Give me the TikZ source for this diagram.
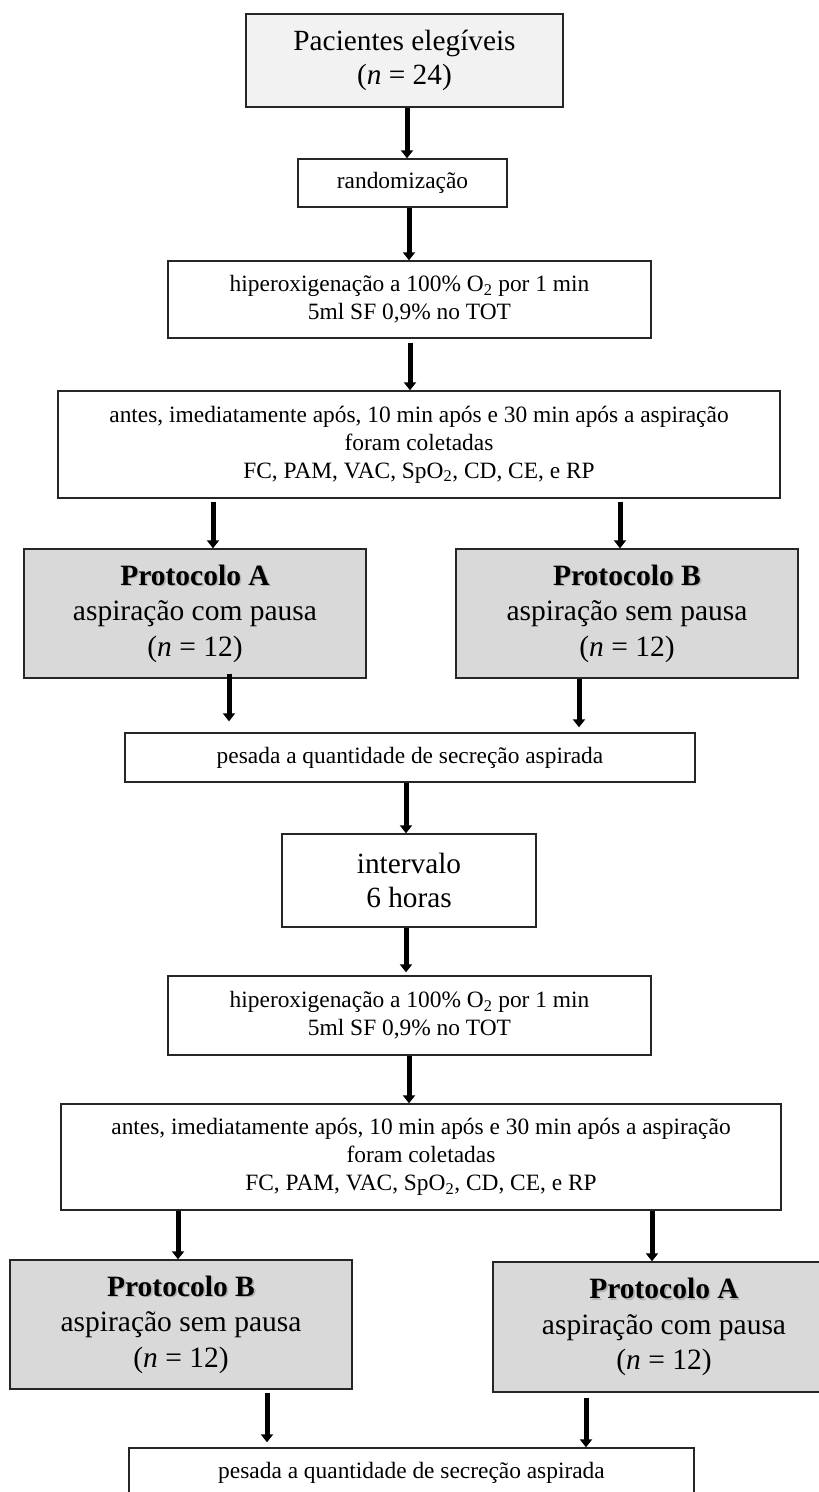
\documentclass[tikz,border=0pt]{standalone}
\usepackage{fontspec}
\setmainfont{Liberation Serif}
\usetikzlibrary{arrows.meta}
\definecolor{lightfill}{HTML}{F2F2F2}
\definecolor{protofill}{HTML}{D9D9D9}
\definecolor{edgecol}{HTML}{262626}
\newcommand\shtitle[1]{\makebox[0pt][l]{\hspace{1.6pt}\raisebox{-1.6pt}{\textcolor{black!30}{\bfseries #1}}}{\bfseries #1}}
\begin{document}
\begin{tikzpicture}[x=1pt,y=-1pt,
  box/.style={draw=edgecol, line width=1.4pt, rectangle, inner sep=0pt, align=center,
              font=\fontsize{23.4}{28}\selectfont},
  bigbox/.style={box, font=\fontsize{29.3}{34.5}\selectfont},
  protobox/.style={box, fill=protofill, minimum width=342pt, minimum height=129pt,
              font=\fontsize{29.5}{35.5}\selectfont},
  arr/.style={line width=5pt, -{Triangle[width=12pt,length=8pt]}}]
\useasboundingbox (0,0) rectangle (819,1492);
\fill[white] (0,0) rectangle (819,1492);

% nodes
\node[bigbox, fill=lightfill, minimum width=317pt, minimum height=93pt] (box1) at (404.5,60.5)
  {Pacientes elegíveis\\(\textit{n} = 24)};
\node[box, minimum width=209pt, minimum height=48pt] (rand) at (402.5,183) {randomização};
\node[box, minimum width=483pt, minimum height=77pt] (hip1) at (409.5,299.5)
  {hiperoxigenação a 100\% O\textsubscript{2} por 1 min\\5ml SF 0,9\% no TOT};
\node[box, minimum width=722pt, minimum height=107pt] (wide1) at (419,444.5)
  {antes, imediatamente após, 10 min após e 30 min após a aspiração\\foram coletadas\\FC, PAM, VAC, SpO\textsubscript{2}, CD, CE, e RP};
\node[protobox] (pA1) at (195,613.5)
  {\shtitle{Protocolo A}\\aspiração com pausa\\(\textit{n} = 12)};
\node[protobox] (pB1) at (627,613.5)
  {\shtitle{Protocolo B}\\aspiração sem pausa\\(\textit{n} = 12)};
\node[box, minimum width=570pt, minimum height=49pt] (pes1) at (410,757.5)
  {pesada a quantidade de secreção aspirada};
\node[bigbox, minimum width=254pt, minimum height=93pt] (int) at (409,880.5)
  {intervalo\\6 horas};
\node[box, minimum width=483pt, minimum height=79pt] (hip2) at (409.5,1015.5)
  {hiperoxigenação a 100\% O\textsubscript{2} por 1 min\\5ml SF 0,9\% no TOT};
\node[box, minimum width=720pt, minimum height=106pt] (wide2) at (421,1157)
  {antes, imediatamente após, 10 min após e 30 min após a aspiração\\foram coletadas\\FC, PAM, VAC, SpO\textsubscript{2}, CD, CE, e RP};
\node[protobox] (pB2) at (181,1324.5)
  {\shtitle{Protocolo B}\\aspiração sem pausa\\(\textit{n} = 12)};
\node[protobox, minimum height=130pt] (pA2) at (664,1327)
  {\shtitle{Protocolo A}\\aspiração com pausa\\(\textit{n} = 12)};
\node[box, minimum width=565pt, minimum height=49pt] (pes2) at (411.5,1472.5)
  {pesada a quantidade de secreção aspirada};

% arrow x positions
\coordinate (x1) at (407,0);
\coordinate (x2) at (409,0);
\coordinate (x3) at (410,0);
\coordinate (x4) at (213,0);
\coordinate (x5) at (620,0);
\coordinate (x6) at (229,0);
\coordinate (x7) at (579,0);
\coordinate (x8) at (406,0);
\coordinate (x9) at (406,0);
\coordinate (x10) at (409,0);
\coordinate (x11) at (178,0);
\coordinate (x12) at (652,0);
\coordinate (x13) at (267,0);
\coordinate (x14) at (586,0);

% arrows
\draw[arr] (box1.south -| x1) -- (rand.north -| x1);
\draw[arr] (rand.south -| x2) -- (hip1.north -| x2);
\draw[arr, shorten <=4pt] (hip1.south -| x3) -- (wide1.north -| x3);
\draw[arr, shorten <=3pt] (wide1.south -| x4) -- (pA1.north -| x4);
\draw[arr, shorten <=3pt] (wide1.south -| x5) -- (pB1.north -| x5);
\draw[arr, shorten <=-5pt, shorten >=11pt] (pA1.south -| x6) -- (pes1.north -| x6);
\draw[arr, shorten >=5pt] (pB1.south -| x7) -- (pes1.north -| x7);
\draw[arr] (pes1.south -| x8) -- (int.north -| x8);
\draw[arr, shorten >=3pt] (int.south -| x9) -- (hip2.north -| x9);
\draw[arr] (hip2.south -| x10) -- (wide2.north -| x10);
\draw[arr] (wide2.south -| x11) -- (pB2.north -| x11);
\draw[arr] (wide2.south -| x12) -- (pA2.north -| x12);
\draw[arr, shorten <=3pt, shorten >=5pt] (pB2.south -| x13) -- (pes2.north -| x13);
\draw[arr, shorten <=5pt] (pA2.south -| x14) -- (pes2.north -| x14);
\end{tikzpicture}
\end{document}
